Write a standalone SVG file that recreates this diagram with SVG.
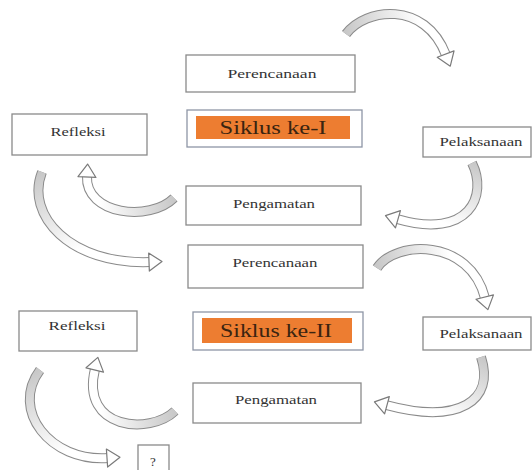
<svg xmlns="http://www.w3.org/2000/svg" width="532" height="470" viewBox="0 0 532 470">
<style>
.box{fill:#fff;stroke:#8a8a8a;stroke-width:1.3}
.sbox{fill:#fff;stroke:#8e96a6;stroke-width:1.3}
.orange{fill:#ED7D31}
.lbl{font-size:13px;fill:#333;text-anchor:middle}
.big{font-size:19px;fill:#3a2410;text-anchor:middle}
.out{fill:none;stroke:#8a8a8a;stroke-width:10;stroke-linecap:butt}
.in{fill:none;stroke-width:8;stroke-linecap:butt}
</style>
<defs>
<marker id="head" markerUnits="userSpaceOnUse" markerWidth="16" markerHeight="20" refX="1" refY="9" orient="auto" overflow="visible">
<path d="M0,0 L13,9 L0,18 Z" fill="#fff" stroke="#7a7a7a" stroke-width="1.2" stroke-linejoin="round"/>
</marker>
<linearGradient id="g1" gradientUnits="userSpaceOnUse" x1="346" y1="34" x2="420" y2="20"><stop offset="0" stop-color="#c8c8c8"/><stop offset="1" stop-color="#fff"/></linearGradient>
<linearGradient id="g2" gradientUnits="userSpaceOnUse" x1="472" y1="163" x2="450" y2="225"><stop offset="0" stop-color="#c8c8c8"/><stop offset="1" stop-color="#fff"/></linearGradient>
<linearGradient id="g3" gradientUnits="userSpaceOnUse" x1="174" y1="198" x2="100" y2="205"><stop offset="0" stop-color="#c8c8c8"/><stop offset="1" stop-color="#fff"/></linearGradient>
<linearGradient id="g4" gradientUnits="userSpaceOnUse" x1="42" y1="172" x2="80" y2="250"><stop offset="0" stop-color="#c8c8c8"/><stop offset="1" stop-color="#fff"/></linearGradient>
<linearGradient id="g5" gradientUnits="userSpaceOnUse" x1="377" y1="268" x2="450" y2="255"><stop offset="0" stop-color="#c8c8c8"/><stop offset="1" stop-color="#fff"/></linearGradient>
<linearGradient id="g6" gradientUnits="userSpaceOnUse" x1="481" y1="357" x2="450" y2="418"><stop offset="0" stop-color="#c8c8c8"/><stop offset="1" stop-color="#fff"/></linearGradient>
<linearGradient id="g7" gradientUnits="userSpaceOnUse" x1="175" y1="411" x2="100" y2="415"><stop offset="0" stop-color="#c8c8c8"/><stop offset="1" stop-color="#fff"/></linearGradient>
<linearGradient id="g8" gradientUnits="userSpaceOnUse" x1="40" y1="370" x2="70" y2="450"><stop offset="0" stop-color="#c8c8c8"/><stop offset="1" stop-color="#fff"/></linearGradient>
</defs>
<rect width="532" height="470" fill="#fff"/>
<g id="connectors">
<path class="out" d="M346,34 C365,8 425,0 446,55"/>
<path class="in" stroke="url(#g1)" marker-end="url(#head)" d="M346,34 C365,8 425,0 446,55"/>
<path class="out" d="M472,163 C488,195 470,240 397,219"/>
<path class="in" stroke="url(#g2)" marker-end="url(#head)" d="M472,163 C488,195 470,240 397,219"/>
<path class="out" d="M174,198 C150,222 85,215 87,176"/>
<path class="in" stroke="url(#g3)" marker-end="url(#head)" d="M174,198 C150,222 85,215 87,176"/>
<path class="out" d="M42,172 C25,215 70,265 150,262"/>
<path class="in" stroke="url(#g4)" marker-end="url(#head)" d="M42,172 C25,215 70,265 150,262"/>
<path class="out" d="M377,268 C395,240 470,238 485,298"/>
<path class="in" stroke="url(#g5)" marker-end="url(#head)" d="M377,268 C395,240 470,238 485,298"/>
<path class="out" d="M481,357 C495,400 460,425 386,405"/>
<path class="in" stroke="url(#g6)" marker-end="url(#head)" d="M481,357 C495,400 460,425 386,405"/>
<path class="out" d="M175,411 C150,435 80,430 95,369"/>
<path class="in" stroke="url(#g7)" marker-end="url(#head)" d="M175,411 C150,435 80,430 95,369"/>
<path class="out" d="M40,370 C10,410 50,462 108,458"/>
<path class="in" stroke="url(#g8)" marker-end="url(#head)" d="M40,370 C10,410 50,462 108,458"/>
</g>
<g id="nodes" font-family="Liberation Serif, DejaVu Serif, serif">
<g id="perencanaan1"><rect class="box" x="186" y="55" width="169" height="37"/><text class="lbl" x="272" y="78" textLength="89" lengthAdjust="spacingAndGlyphs">Perencanaan</text></g>
<g id="siklus1"><rect class="sbox" x="187" y="110" width="175" height="37"/><rect class="orange" x="196" y="116" width="154" height="23"/><text class="big" x="273" y="134" textLength="107" lengthAdjust="spacingAndGlyphs">Siklus ke-I</text></g>
<g id="pelaksanaan1"><rect class="box" x="423" y="127" width="108" height="30"/><text class="lbl" x="481" y="146" textLength="83" lengthAdjust="spacingAndGlyphs">Pelaksanaan</text></g>
<g id="refleksi1"><rect class="box" x="12" y="114" width="135" height="41"/><text class="lbl" x="78" y="136" textLength="55" lengthAdjust="spacingAndGlyphs">Refleksi</text></g>
<g id="pengamatan1"><rect class="box" x="186" y="186" width="175" height="39"/><text class="lbl" x="274" y="208" textLength="82" lengthAdjust="spacingAndGlyphs">Pengamatan</text></g>
<g id="perencanaan2"><rect class="box" x="188" y="245" width="175" height="43"/><text class="lbl" x="275" y="267" textLength="85" lengthAdjust="spacingAndGlyphs">Perencanaan</text></g>
<g id="siklus2"><rect class="sbox" x="193" y="312" width="170" height="38"/><rect class="orange" x="202" y="318" width="150" height="25"/><text class="big" x="276" y="337" textLength="112" lengthAdjust="spacingAndGlyphs">Siklus ke-II</text></g>
<g id="pelaksanaan2"><rect class="box" x="423" y="317" width="108" height="33"/><text class="lbl" x="481" y="338" textLength="83" lengthAdjust="spacingAndGlyphs">Pelaksanaan</text></g>
<g id="refleksi2"><rect class="box" x="19" y="311" width="118" height="40"/><text class="lbl" x="77" y="330" textLength="57" lengthAdjust="spacingAndGlyphs">Refleksi</text></g>
<g id="pengamatan2"><rect class="box" x="193" y="383" width="168" height="40"/><text class="lbl" x="276" y="404" textLength="82" lengthAdjust="spacingAndGlyphs">Pengamatan</text></g>
<g id="unknown"><rect class="box" x="138" y="445" width="31" height="30"/><text class="lbl" x="153" y="466">?</text></g>
</g>
</svg>
